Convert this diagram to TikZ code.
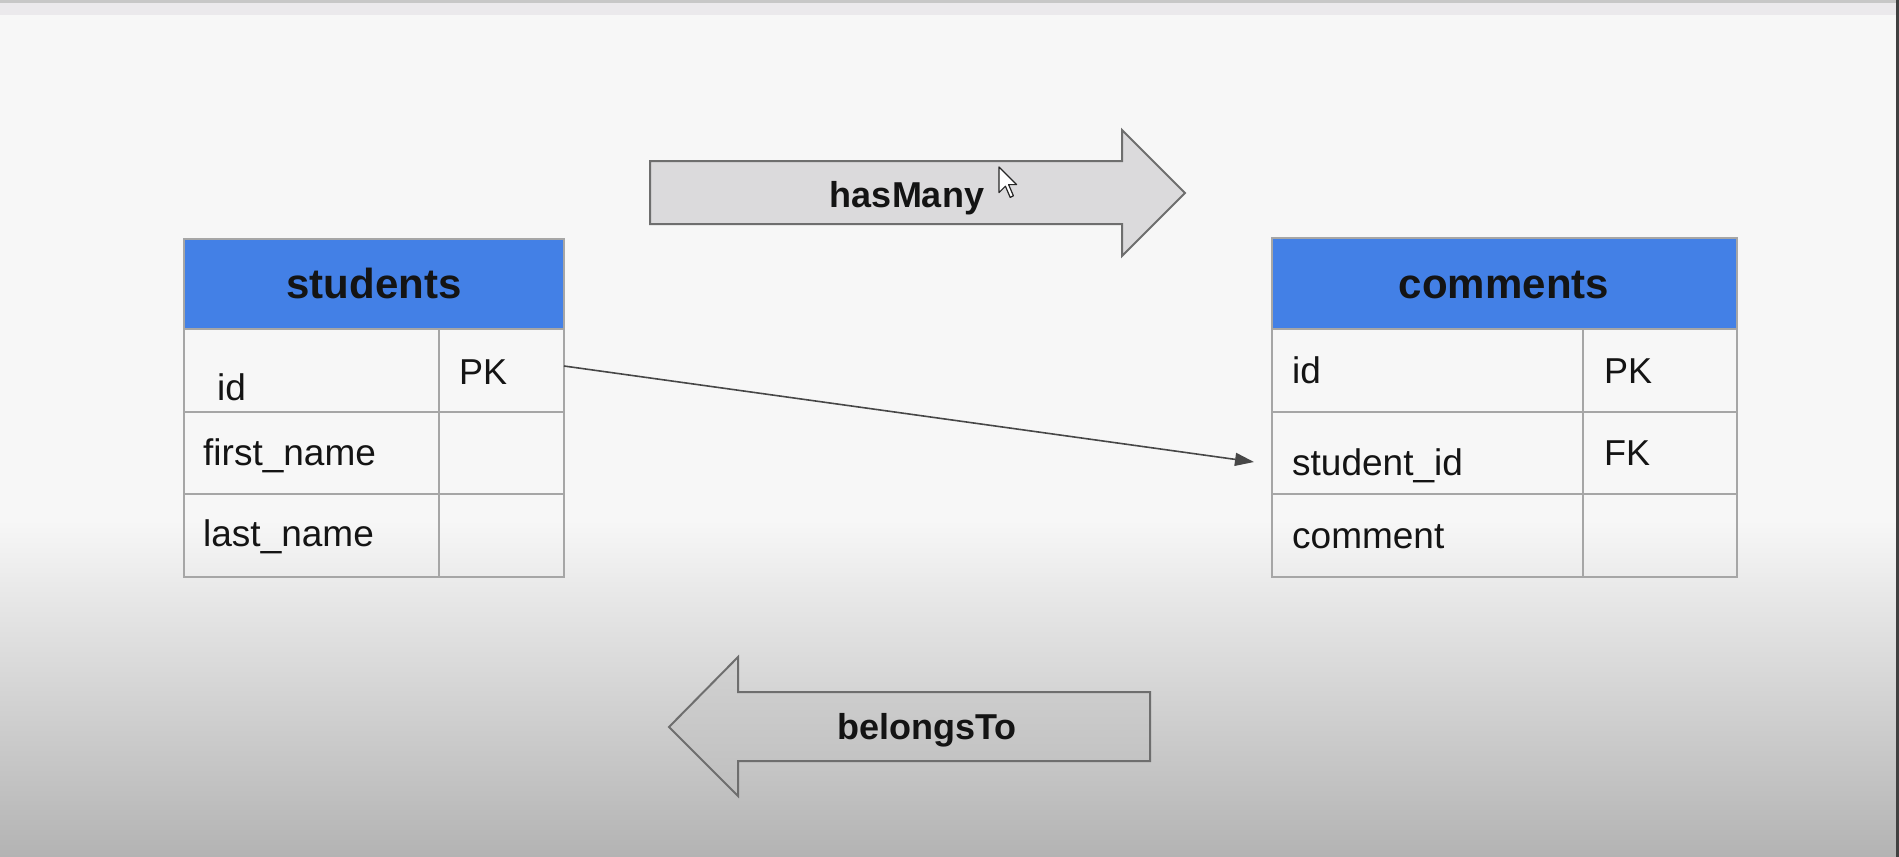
\documentclass[tikz,border=0pt]{standalone}
\usepackage{fontspec}
\setmainfont{Liberation Sans}
\usetikzlibrary{arrows.meta}
\definecolor{bgtop}{HTML}{F7F7F7}
\definecolor{bgbot}{HTML}{B3B3B3}
\definecolor{bandgray}{HTML}{EBE9EC}
\definecolor{hdrblue}{HTML}{4380E6}
\definecolor{gridgray}{HTML}{A6A6A6}
\definecolor{arrowedge}{HTML}{6E6E6E}
\definecolor{arrowfillA}{HTML}{DBDADC}
\definecolor{arrowfillTop}{HTML}{D2D2D2}
\definecolor{arrowfillBot}{HTML}{BEBEBE}
\definecolor{txt}{HTML}{141414}
\tikzset{
  cellbox/.style={draw=gridgray, line width=2pt, inner sep=0pt, outer sep=0pt},
  hdrbox/.style={cellbox, fill=hdrblue},
  hdrtext/.style={font=\fontsize{42}{48}\selectfont\bfseries, text=txt, anchor=base, inner sep=0pt},
  celltext/.style={font=\fontsize{37}{42}\selectfont, text=txt, anchor=base west, inner sep=0pt},
  keytext/.style={font=\fontsize{36}{42}\selectfont, text=txt, anchor=base west, inner sep=0pt},
  bigarrow/.style={draw=arrowedge, line width=2pt, line join=miter},
  arrowlabel/.style={font=\fontsize{36}{40}\selectfont\bfseries, text=txt, anchor=base, inner sep=0pt},
  relline/.style={draw=black!72, line width=1.6pt, -{Triangle[length=19pt,width=13pt]}}
}
\begin{document}
\begin{tikzpicture}[x=1pt,y=-1pt]
\useasboundingbox (0,0) rectangle (1899,857);
% background
\fill[bgtop] (0,0) rectangle (1899,857);
\shade[top color=bgtop, bottom color=bgbot] (0,520) rectangle (1899,857);
\fill[black!22] (0,0) rectangle (1899,3);
\fill[bandgray] (0,3) rectangle (1899,15);
\fill[black!75] (1896,0) rectangle (1899,857);

% students table
\node[hdrbox, minimum width=380pt, minimum height=90pt] (s-hdr) at (374,284) {};
\node[cellbox, minimum width=255pt, minimum height=83pt] (s-idn) at (311.5,370.5) {};
\node[cellbox, minimum width=125pt, minimum height=83pt] (s-pk) at (501.5,370.5) {};
\node[cellbox, minimum width=255pt, minimum height=82pt] (s-fn) at (311.5,453) {};
\node[cellbox, minimum width=125pt, minimum height=82pt] (s-fnk) at (501.5,453) {};
\node[cellbox, minimum width=255pt, minimum height=83pt] (s-ln) at (311.5,535.5) {};
\node[cellbox, minimum width=125pt, minimum height=83pt] (s-lnk) at (501.5,535.5) {};
\node[hdrtext] (s-title) at (374,298) {students};
\node[celltext] (s-id-t) at (217,400) {id};
\node[keytext] (s-pk-t) at (459,384) {PK};
\node[celltext] (s-fn-t) at (203,465) {first\_name};
\node[celltext] (s-ln-t) at (203,546) {last\_name};

% comments table
\node[hdrbox, minimum width=465pt, minimum height=91pt] (c-hdr) at (1504.5,283.5) {};
\node[cellbox, minimum width=311pt, minimum height=83pt] (c-idn) at (1427.5,370.5) {};
\node[cellbox, minimum width=154pt, minimum height=83pt] (c-pk) at (1660,370.5) {};
\node[cellbox, minimum width=311pt, minimum height=82pt] (c-sid) at (1427.5,453) {};
\node[cellbox, minimum width=154pt, minimum height=82pt] (c-fk) at (1660,453) {};
\node[cellbox, minimum width=311pt, minimum height=83pt] (c-cm) at (1427.5,535.5) {};
\node[cellbox, minimum width=154pt, minimum height=83pt] (c-cmk) at (1660,535.5) {};
\node[hdrtext] (c-title) at (1504,298) {comments};
\node[celltext] (c-id-t) at (1292,383) {id};
\node[keytext] (c-pk-t) at (1604,383) {PK};
\node[celltext] (c-sid-t) at (1292,475) {student\_id};
\node[keytext] (c-fk-t) at (1604,465) {FK};
\node[celltext] (c-cm-t) at (1292,548) {comment};

% relation line
\coordinate (rel-start) at (564,366);
\coordinate (rel-end) at (1254,462);
\draw[relline] (rel-start) -- (rel-end);

% hasMany block arrow
\filldraw[bigarrow, fill=arrowfillA] (650,161) -- (1122,161) -- (1122,130) -- (1185,193) -- (1122,256) -- (1122,224) -- (650,224) -- cycle;
\node[arrowlabel] (has-many) at (907,207) {hasMany};

% mouse cursor
\filldraw[fill=white, draw=black!85, line width=1.2pt, line join=round]
  (999,167) -- (999,192.6) -- (1005.4,186.2) -- (1010.2,197.4) -- (1013.4,195.8) -- (1008.6,184.6) -- (1016.6,184.6) -- cycle;

% belongsTo block arrow
\shade[top color=arrowfillTop, bottom color=arrowfillBot] (669,727) -- (738,657) -- (738,692) -- (1150,692) -- (1150,761) -- (738,761) -- (738,796) -- cycle;
\draw[bigarrow] (669,727) -- (738,657) -- (738,692) -- (1150,692) -- (1150,761) -- (738,761) -- (738,796) -- cycle;
\node[arrowlabel] (belongs-to) at (927,739) {belongsTo};
\end{tikzpicture}
\end{document}
